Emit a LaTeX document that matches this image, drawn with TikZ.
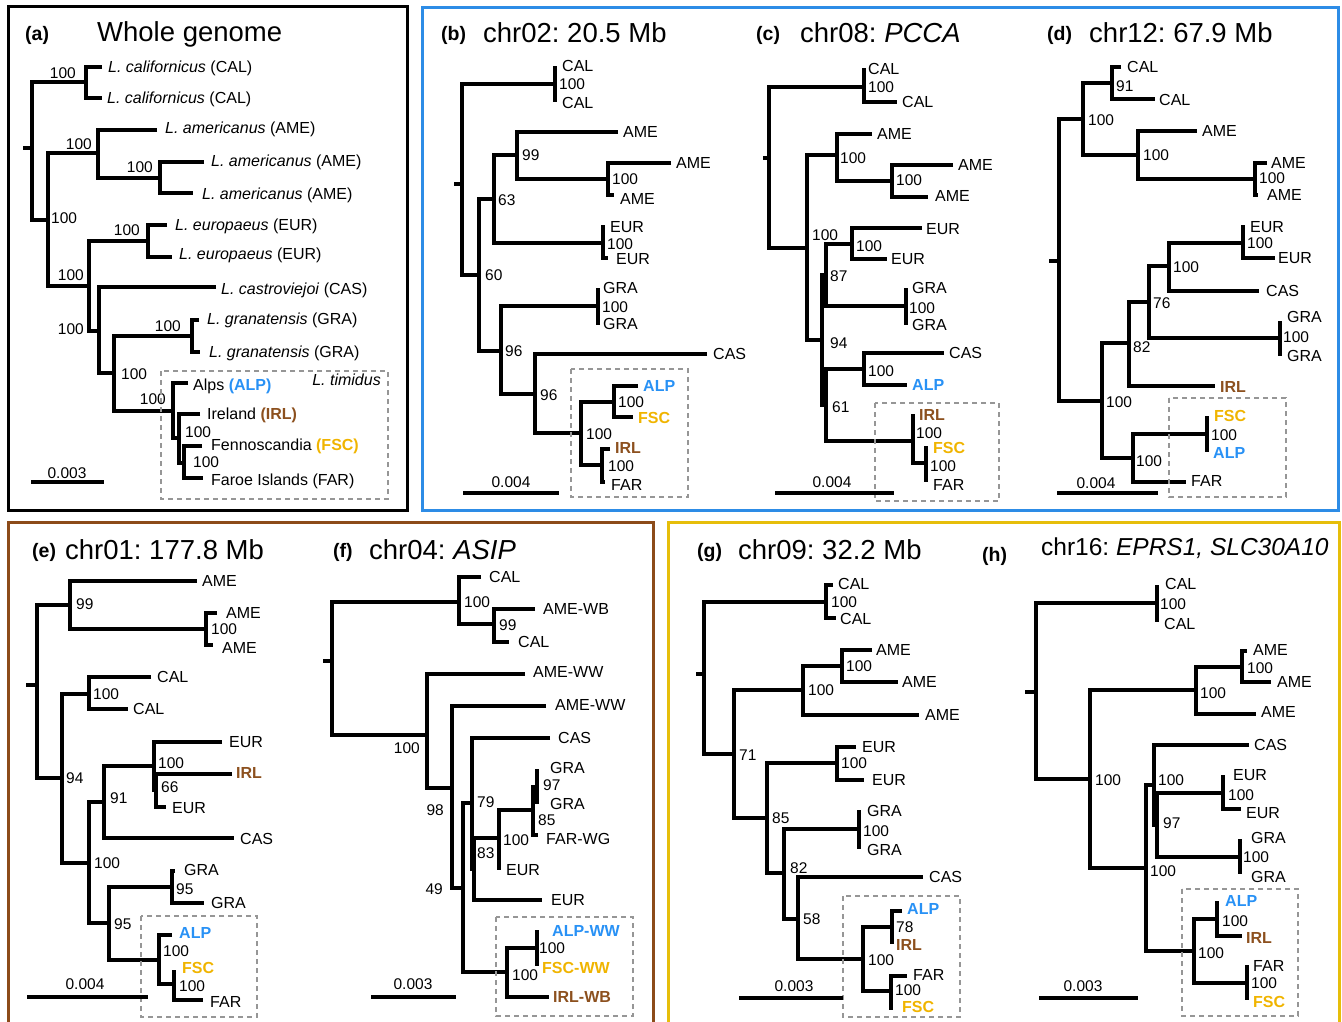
\documentclass[tikz,border=0pt]{standalone}
\usepackage{fontspec}
\setmainfont{Liberation Sans}
\usepackage{tikz}
\frenchspacing

\definecolor{alpblue}{RGB}{40,145,245}
\definecolor{irlbrown}{RGB}{140,80,30}
\definecolor{fscgold}{RGB}{240,180,0}
\definecolor{frameblue}{RGB}{45,140,230}
\definecolor{framebrown}{RGB}{140,75,25}
\definecolor{frameyellow}{RGB}{230,190,10}
\definecolor{boxgray}{RGB}{150,150,150}

\newcommand\colALP[1]{\textbf{\color{alpblue}#1}}
\newcommand\colIRL[1]{\textbf{\color{irlbrown}#1}}
\newcommand\colFSC[1]{\textbf{\color{fscgold}#1}}
% fork of a tree: node x, upper tip x/y, lower tip x/y
\newcommand\brfork[5]{\draw[br] (#2,#3) -| (#1,#5) -- (#4,#5);}

\tikzset{
  br/.style={line width=3.2pt},
  lbl/.style={anchor=west, inner sep=0pt, font=\fontsize{16}{18}\selectfont, text height=11.5pt, text depth=0pt},
  bs/.style={anchor=west, inner sep=0pt, font=\fontsize{15.5}{18}\selectfont, text height=11pt, text depth=0pt},
  bsl/.style={bs, anchor=east},
  scl/.style={bs, anchor=center},
  ttl/.style={anchor=west, inner sep=0pt, font=\fontsize{27.5}{30}\selectfont, text height=19.8pt, text depth=0pt},
  tag/.style={anchor=west, inner sep=0pt, font=\bfseries\fontsize{19.5}{22}\selectfont, text height=14pt, text depth=0pt},
  frame/.style={line width=3pt},
  timbox/.style={boxgray, line width=1.5pt, dash pattern=on 5pt off 4pt},
  scalebar/.style={line width=3.2pt}
}

\begin{document}
\begin{tikzpicture}[x=1pt,y=-1pt]
\useasboundingbox (0,0) rectangle (1342,1021);

% frames of the panel groups
\draw[frame] (8,6) rectangle (407,510);
\draw[frame,frameblue] (422,7) rectangle (1338,510);
\draw[frame,framebrown] (8,522) rectangle (653,1040);
\draw[frame,frameyellow] (668,522) rectangle (1339,1040);

%%%%%%%%%% (a) whole genome
\node[tag] (atag) at (25,33) {(a)};
\node[ttl] (attl) at (97,32) {Whole genome};
\draw[br] (23,148) -- (32,148); % root
\brfork{32}{86}{82}{48}{220}
\brfork{86}{102}{67}{102}{98}
\brfork{48}{98}{153}{89}{286}
\brfork{98}{157}{130}{160}{178}
\brfork{160}{204}{162}{193}{193}
\brfork{89}{148}{241}{99}{331}
\brfork{148}{167}{225}{172}{257}
\brfork{99}{216}{287}{114}{373}
\brfork{114}{192}{336}{173}{411}
\brfork{192}{199}{320}{200}{352}
\brfork{173}{188}{383}{179}{438}
\brfork{179}{200}{414}{184}{463}
\brfork{184}{202}{446}{203}{478}
\node[bsl] (as1) at (76,73) {100};
\node[bs]  (as2) at (51,218) {100};
\node[bsl] (as3) at (92,144) {100};
\node[bsl] (as4) at (153,167) {100};
\node[bsl] (as5) at (84,275) {100};
\node[bsl] (as6) at (140,230) {100};
\node[bsl] (as7) at (84,329) {100};
\node[bs]  (as8) at (121,374) {100};
\node[bsl] (as9) at (181,326) {100};
\node[bsl] (as10) at (166,399) {100};
\node[bs]  (as11) at (185,432) {100};
\node[bs]  (as12) at (193,462) {100};
\node[lbl] (aCAL1) at (108,67) {\textit{L. californicus} (CAL)};
\node[lbl] (aCAL2) at (107,98) {\textit{L. californicus} (CAL)};
\node[lbl] (aAME1) at (165,128) {\textit{L. americanus} (AME)};
\node[lbl] (aAME2) at (211,161) {\textit{L. americanus} (AME)};
\node[lbl] (aAME3) at (202,194) {\textit{L. americanus} (AME)};
\node[lbl] (aEUR1) at (175,225) {\textit{L. europaeus} (EUR)};
\node[lbl] (aEUR2) at (179,254) {\textit{L. europaeus} (EUR)};
\node[lbl] (aCAS) at (221,289) {\textit{L. castroviejoi} (CAS)};
\node[lbl] (aGRA1) at (207,319) {\textit{L. granatensis} (GRA)};
\node[lbl] (aGRA2) at (209,352) {\textit{L. granatensis} (GRA)};
\node[lbl] (aALP) at (193,385) {Alps \colALP{(ALP)}};
\node[lbl] (aIRL) at (207,414) {Ireland \colIRL{(IRL)}};
\node[lbl] (aFSC) at (211,445) {Fennoscandia \colFSC{(FSC)}};
\node[lbl] (aFAR) at (211,480) {Faroe Islands (FAR)};
\draw[timbox] (161,371) rectangle (388,499);
\node[lbl,anchor=east] (atim) at (381,380) {\textit{L. timidus}};
\draw[scalebar] (31,482) -- (104,482);
\node[scl] (asc) at (67,473) {0.003};

%%%%%%%%%% (b) chr02
\node[tag] (btag) at (441,33) {(b)};
\node[ttl] (bttl) at (483,33) {chr02: 20.5 Mb};
\draw[br] (454,184) -- (462,184); % root
\brfork{462}{555}{84}{479}{275}
\brfork{555}{557}{68}{557}{100}
\brfork{479}{494}{199}{501}{351}
\brfork{494}{517}{155}{603}{243}
\brfork{517}{618}{132}{608}{179}
\brfork{608}{671}{163}{614}{195}
\brfork{603}{605}{227}{608}{258}
\brfork{501}{598}{306}{535}{394}
\brfork{598}{600}{290}{600}{323}
\brfork{535}{707}{354}{581}{433}
\brfork{581}{614}{402}{602}{465}
\brfork{614}{638}{386}{633}{417}
\brfork{602}{610}{449}{605}{482}
\node[bs] (bs1) at (559,84) {100};
\node[bs] (bs2) at (485,275) {60};
\node[bs] (bs3) at (498,200) {63};
\node[bs] (bs4) at (522,155) {99};
\node[bs] (bs5) at (612,179) {100};
\node[bs] (bs6) at (607,244) {100};
\node[bs] (bs7) at (505,351) {96};
\node[bs] (bs8) at (602,307) {100};
\node[bs] (bs9) at (540,395) {96};
\node[bs] (bs10) at (586,434) {100};
\node[bs] (bs11) at (618,402) {100};
\node[bs] (bs12) at (608,466) {100};
\node[lbl] (bCAL1) at (562,66) {CAL};
\node[lbl] (bCAL2) at (562,103) {CAL};
\node[lbl] (bAME1) at (623,132) {AME};
\node[lbl] (bAME2) at (676,163) {AME};
\node[lbl] (bAME3) at (620,199) {AME};
\node[lbl] (bEUR1) at (610,227) {EUR};
\node[lbl] (bEUR2) at (616,259) {EUR};
\node[lbl] (bGRA1) at (603,288) {GRA};
\node[lbl] (bGRA2) at (603,324) {GRA};
\node[lbl] (bCAS) at (713,354) {CAS};
\node[lbl] (bALP) at (643,386) {\colALP{ALP}};
\node[lbl] (bFSC) at (638,418) {\colFSC{FSC}};
\node[lbl] (bIRL) at (615,448) {\colIRL{IRL}};
\node[lbl] (bFAR) at (611,485) {FAR};
\draw[timbox] (571,369) rectangle (688,497);
\draw[scalebar] (463,493) -- (559,493);
\node[scl] (bsc) at (511,482) {0.004};

%%%%%%%%%% (c) chr08: PCCA
\node[tag] (ctag) at (756,33) {(c)};
\node[ttl] (cttl) at (800,33) {chr08: \textit{PCCA}};
\draw[br] (763,158) -- (769,158); % root
\brfork{769}{864}{87}{807}{248}
\brfork{864}{866}{70}{897}{102}
\brfork{807}{837}{155}{822}{340}
\brfork{837}{872}{134}{892}{181}
\brfork{892}{953}{165}{928}{197}
\brfork{822}{826}{275}{826}{405}
\brfork{826}{852}{244}{906}{306}
\brfork{852}{922}{228}{887}{259}
\brfork{906}{908}{290}{908}{323}
\brfork{826}{864}{369}{913}{441}
\brfork{864}{944}{353}{907}{385}
\brfork{913}{915}{416}{926}{463}
\brfork{926}{928}{448}{928}{480}
\node[bs] (cs1) at (868,87) {100};
\node[bs] (cs2) at (812,235) {100};
\node[bs] (cs3) at (840,158) {100};
\node[bs] (cs4) at (896,180) {100};
\node[bs] (cs5) at (830,343) {94};
\node[bs] (cs6) at (830,276) {87};
\node[bs] (cs7) at (856,246) {100};
\node[bs] (cs8) at (909,308) {100};
\node[bs] (cs9) at (832,407) {61};
\node[bs] (cs10) at (868,371) {100};
\node[bs] (cs11) at (916,433) {100};
\node[bs] (cs12) at (930,466) {100};
\node[lbl] (cCAL1) at (868,69) {CAL};
\node[lbl] (cCAL2) at (902,102) {CAL};
\node[lbl] (cAME1) at (877,134) {AME};
\node[lbl] (cAME2) at (958,165) {AME};
\node[lbl] (cAME3) at (935,196) {AME};
\node[lbl] (cEUR1) at (926,229) {EUR};
\node[lbl] (cEUR2) at (891,259) {EUR};
\node[lbl] (cGRA1) at (912,288) {GRA};
\node[lbl] (cGRA2) at (912,325) {GRA};
\node[lbl] (cCAS) at (949,353) {CAS};
\node[lbl] (cALP) at (912,385) {\colALP{ALP}};
\node[lbl] (cIRL) at (919,415) {\colIRL{IRL}};
\node[lbl] (cFSC) at (933,448) {\colFSC{FSC}};
\node[lbl] (cFAR) at (933,485) {FAR};
\draw[timbox] (875,403) rectangle (999,501);
\draw[scalebar] (775,493) -- (894,493);
\node[scl] (csc) at (832,482) {0.004};

%%%%%%%%%% (d) chr12
\node[tag] (dtag) at (1047,33) {(d)};
\node[ttl] (dttl) at (1089,33) {chr12: 67.9 Mb};
\draw[br] (1049,261) -- (1059,261); % root
\brfork{1059}{1083}{119}{1102}{401}
\brfork{1083}{1112}{83}{1138}{155}
\brfork{1112}{1121}{67}{1155}{99}
\brfork{1138}{1197}{131}{1255}{179}
\brfork{1255}{1267}{163}{1258}{195}
\brfork{1102}{1129}{343}{1133}{458}
\brfork{1129}{1149}{302}{1215}{386}
\brfork{1149}{1169}{266}{1280}{338}
\brfork{1169}{1243}{243}{1259}{291}
\brfork{1243}{1245}{227}{1275}{258}
\brfork{1280}{1282}{323}{1282}{354}
\brfork{1133}{1207}{434}{1186}{482}
\brfork{1207}{1209}{418}{1209}{450}
\node[bs] (ds1) at (1088,120) {100};
\node[bs] (ds2) at (1116,86) {91};
\node[bs] (ds3) at (1143,155) {100};
\node[bs] (ds4) at (1259,178) {100};
\node[bs] (ds5) at (1106,402) {100};
\node[bs] (ds6) at (1133,347) {82};
\node[bs] (ds7) at (1153,303) {76};
\node[bs] (ds8) at (1173,267) {100};
\node[bs] (ds9) at (1247,243) {100};
\node[bs] (ds10) at (1283,337) {100};
\node[bs] (ds11) at (1136,461) {100};
\node[bs] (ds12) at (1211,435) {100};
\node[lbl] (dCAL1) at (1127,67) {CAL};
\node[lbl] (dCAL2) at (1159,100) {CAL};
\node[lbl] (dAME1) at (1202,131) {AME};
\node[lbl] (dAME2) at (1271,163) {AME};
\node[lbl] (dAME3) at (1267,195) {AME};
\node[lbl] (dEUR1) at (1250,227) {EUR};
\node[lbl] (dEUR2) at (1278,258) {EUR};
\node[lbl] (dCAS) at (1266,291) {CAS};
\node[lbl] (dGRA1) at (1287,317) {GRA};
\node[lbl] (dGRA2) at (1287,356) {GRA};
\node[lbl] (dIRL) at (1220,387) {\colIRL{IRL}};
\node[lbl] (dFSC) at (1214,416) {\colFSC{FSC}};
\node[lbl] (dALP) at (1213,453) {\colALP{ALP}};
\node[lbl] (dFAR) at (1191,481) {FAR};
\draw[timbox] (1169,398) rectangle (1286,497);
\draw[scalebar] (1057,493) -- (1158,493);
\node[scl] (dsc) at (1096,483) {0.004};

%%%%%%%%%% (e) chr01
\node[tag] (etag) at (32,550) {(e)};
\node[ttl] (ettl) at (65,550) {chr01: 177.8 Mb};
\draw[br] (26,685) -- (37,685); % root
\brfork{37}{70}{605}{62}{778}
\brfork{70}{197}{581}{206}{629}
\brfork{206}{217}{613}{213}{645}
\brfork{62}{89}{694}{89}{863}
\brfork{89}{151}{677}{128}{709}
\brfork{89}{104}{802}{109}{923}
\brfork{104}{154}{766}{234}{838}
\brfork{154}{222}{742}{156}{790}
\brfork{156}{232}{774}{166}{807}
\brfork{109}{172}{887}{159}{960}
\brfork{172}{175}{871}{204}{903}
\brfork{159}{172}{935}{174}{984}
\brfork{174}{176}{972}{203}{1000}
\node[bs] (es1) at (76,604) {99};
\node[bs] (es2) at (211,629) {100};
\node[bs] (es3) at (66,778) {94};
\node[bs] (es4) at (93,694) {100};
\node[bs] (es5) at (94,863) {100};
\node[bs] (es6) at (110,798) {91};
\node[bs] (es7) at (158,763) {100};
\node[bs] (es8) at (161,787) {66};
\node[bs] (es9) at (114,924) {95};
\node[bs] (es10) at (176,889) {95};
\node[bs] (es11) at (163,951) {100};
\node[bs] (es12) at (179,986) {100};
\node[lbl] (eAME1) at (202,581) {AME};
\node[lbl] (eAME2) at (226,613) {AME};
\node[lbl] (eAME3) at (222,648) {AME};
\node[lbl] (eCAL1) at (157,677) {CAL};
\node[lbl] (eCAL2) at (133,709) {CAL};
\node[lbl] (eEUR1) at (229,742) {EUR};
\node[lbl] (eIRL) at (236,773) {\colIRL{IRL}};
\node[lbl] (eEUR2) at (172,808) {EUR};
\node[lbl] (eCAS) at (240,839) {CAS};
\node[lbl] (eGRA1) at (184,870) {GRA};
\node[lbl] (eGRA2) at (211,903) {GRA};
\node[lbl] (eALP) at (179,933) {\colALP{ALP}};
\node[lbl] (eFSC) at (182,968) {\colFSC{FSC}};
\node[lbl] (eFAR) at (210,1002) {FAR};
\draw[timbox] (141,916) rectangle (257,1017);
\draw[scalebar] (27,997) -- (148,997);
\node[scl] (esc) at (85,984) {0.004};

%%%%%%%%%% (f) chr04: ASIP
\node[tag] (ftag) at (333,550) {(f)};
\node[ttl] (fttl) at (369,550) {chr04: \textit{ASIP}};
\draw[br] (323,661) -- (332,661); % root
\brfork{332}{459}{602}{427}{735}
\brfork{459}{481}{577}{494}{624}
\brfork{494}{535}{609}{509}{642}
\brfork{427}{525}{674}{452}{788}
\brfork{452}{546}{706}{463}{888}
\brfork{463}{472}{803}{507}{972}
\brfork{472}{550}{738}{474}{869}
\brfork{474}{499}{838}{542}{900}
\brfork{499}{533}{810}{501}{868}
\brfork{533}{537}{787}{538}{835}
\brfork{537}{539}{771}{539}{802}
\brfork{507}{537}{948}{549}{997}
\brfork{537}{539}{932}{539}{964}
\node[bs]  (fs1) at (464,602) {100};
\node[bs]  (fs2) at (499,625) {99};
\node[bsl] (fs3) at (420,748) {100};
\node[bsl] (fs4) at (444,810) {98};
\node[bsl] (fs5) at (443,889) {49};
\node[bs]  (fs6) at (477,802) {79};
\node[bs]  (fs7) at (477,853) {83};
\node[bs]  (fs8) at (503,840) {100};
\node[bs]  (fs9) at (538,820) {85};
\node[bs]  (fs10) at (543,785) {97};
\node[bs]  (fs11) at (512,975) {100};
\node[bs]  (fs12) at (539,948) {100};
\node[lbl] (fCAL1) at (489,577) {CAL};
\node[lbl] (fAMEWB) at (543,609) {AME-WB};
\node[lbl] (fCAL2) at (518,642) {CAL};
\node[lbl] (fAMEWW1) at (533,672) {AME-WW};
\node[lbl] (fAMEWW2) at (555,705) {AME-WW};
\node[lbl] (fCAS) at (558,738) {CAS};
\node[lbl] (fGRA1) at (550,768) {GRA};
\node[lbl] (fGRA2) at (550,804) {GRA};
\node[lbl] (fFARWG) at (546,839) {FAR-WG};
\node[lbl] (fEUR1) at (506,870) {EUR};
\node[lbl] (fEUR2) at (551,900) {EUR};
\node[lbl] (fALP) at (552,931) {\colALP{ALP-WW}};
\node[lbl] (fFSC) at (542,968) {\colFSC{FSC-WW}};
\node[lbl] (fIRL) at (553,997) {\colIRL{IRL-WB}};
\draw[timbox] (496,917) rectangle (633,1016);
\draw[scalebar] (371,997) -- (456,997);
\node[scl] (fsc) at (413,984) {0.003};

%%%%%%%%%% (g) chr09
\node[tag] (gtag) at (697,550) {(g)};
\node[ttl] (gttl) at (738,550) {chr09: 32.2 Mb};
\draw[br] (696,674) -- (704,674); % root
\brfork{704}{826}{602}{734}{754}
\brfork{826}{833}{585}{836}{618}
\brfork{734}{803}{690}{767}{818}
\brfork{803}{842}{666}{919}{715}
\brfork{842}{872}{650}{898}{682}
\brfork{767}{837}{763}{784}{873}
\brfork{837}{856}{747}{864}{780}
\brfork{784}{859}{829}{798}{919}
\brfork{859}{861}{812}{861}{847}
\brfork{798}{923}{877}{863}{959}
\brfork{863}{892}{927}{891}{991}
\brfork{892}{902}{911}{894}{942}
\brfork{891}{907}{976}{893}{1008}
\node[bs] (gs1) at (831,602) {100};
\node[bs] (gs2) at (739,755) {71};
\node[bs] (gs3) at (808,690) {100};
\node[bs] (gs4) at (846,666) {100};
\node[bs] (gs5) at (772,818) {85};
\node[bs] (gs6) at (841,763) {100};
\node[bs] (gs7) at (790,868) {82};
\node[bs] (gs8) at (863,831) {100};
\node[bs] (gs9) at (803,919) {58};
\node[bs] (gs10) at (868,960) {100};
\node[bs] (gs11) at (896,927) {78};
\node[bs] (gs12) at (895,990) {100};
\node[lbl] (gCAL1) at (838,584) {CAL};
\node[lbl] (gCAL2) at (840,619) {CAL};
\node[lbl] (gAME1) at (876,650) {AME};
\node[lbl] (gAME2) at (902,682) {AME};
\node[lbl] (gAME3) at (925,715) {AME};
\node[lbl] (gEUR1) at (862,747) {EUR};
\node[lbl] (gEUR2) at (872,780) {EUR};
\node[lbl] (gGRA1) at (867,811) {GRA};
\node[lbl] (gGRA2) at (867,850) {GRA};
\node[lbl] (gCAS) at (929,877) {CAS};
\node[lbl] (gALP) at (907,909) {\colALP{ALP}};
\node[lbl] (gIRL) at (896,945) {\colIRL{IRL}};
\node[lbl] (gFAR) at (913,975) {FAR};
\node[lbl] (gFSC) at (902,1007) {\colFSC{FSC}};
\draw[timbox] (843,896) rectangle (960,1017);
\draw[scalebar] (739,998) -- (843,998);
\node[scl] (gsc) at (794,986) {0.003};

%%%%%%%%%% (h) chr16: EPRS1, SLC30A10
\node[tag] (htag) at (982,554) {(h)};
\node[ttl,font=\fontsize{24.5}{28}\selectfont,text height=17.6pt] (httl) at (1041,547) {chr16: \textit{EPRS1, SLC30A10}};
\draw[br] (1025,692) -- (1036,692); % root
\brfork{1036}{1157}{603}{1090}{779}
\brfork{1157}{1159}{587}{1159}{620}
\brfork{1090}{1196}{690}{1146}{868}
\brfork{1196}{1242}{667}{1256}{714}
\brfork{1242}{1247}{651}{1271}{682}
\brfork{1146}{1154}{785}{1194}{951}
\brfork{1154}{1249}{745}{1157}{825}
\brfork{1157}{1223}{793}{1240}{857}
\brfork{1223}{1225}{777}{1241}{809}
\brfork{1240}{1242}{841}{1242}{872}
\brfork{1194}{1217}{919}{1247}{983}
\brfork{1217}{1219}{903}{1242}{936}
\brfork{1247}{1249}{967}{1249}{998}
\node[bs] (hs1) at (1160,604) {100};
\node[bs] (hs2) at (1095,780) {100};
\node[bs] (hs3) at (1200,693) {100};
\node[bs] (hs4) at (1247,668) {100};
\node[bs] (hs5) at (1150,871) {100};
\node[bs] (hs6) at (1158,780) {100};
\node[bs] (hs7) at (1163,823) {97};
\node[bs] (hs8) at (1228,795) {100};
\node[bs] (hs9) at (1243,857) {100};
\node[bs] (hs10) at (1198,953) {100};
\node[bs] (hs11) at (1222,921) {100};
\node[bs] (hs12) at (1251,983) {100};
\node[lbl] (hCAL1) at (1165,584) {CAL};
\node[lbl] (hCAL2) at (1164,624) {CAL};
\node[lbl] (hAME1) at (1253,650) {AME};
\node[lbl] (hAME2) at (1277,682) {AME};
\node[lbl] (hAME3) at (1261,712) {AME};
\node[lbl] (hCAS) at (1254,745) {CAS};
\node[lbl] (hEUR1) at (1233,775) {EUR};
\node[lbl] (hEUR2) at (1246,813) {EUR};
\node[lbl] (hGRA1) at (1251,838) {GRA};
\node[lbl] (hGRA2) at (1251,877) {GRA};
\node[lbl] (hALP) at (1225,901) {\colALP{ALP}};
\node[lbl] (hIRL) at (1246,938) {\colIRL{IRL}};
\node[lbl] (hFAR) at (1253,966) {FAR};
\node[lbl] (hFSC) at (1253,1002) {\colFSC{FSC}};
\draw[timbox] (1182,889) rectangle (1298,1016);
\draw[scalebar] (1039,998) -- (1138,998);
\node[scl] (hsc) at (1083,986) {0.003};

\end{tikzpicture}
\end{document}
